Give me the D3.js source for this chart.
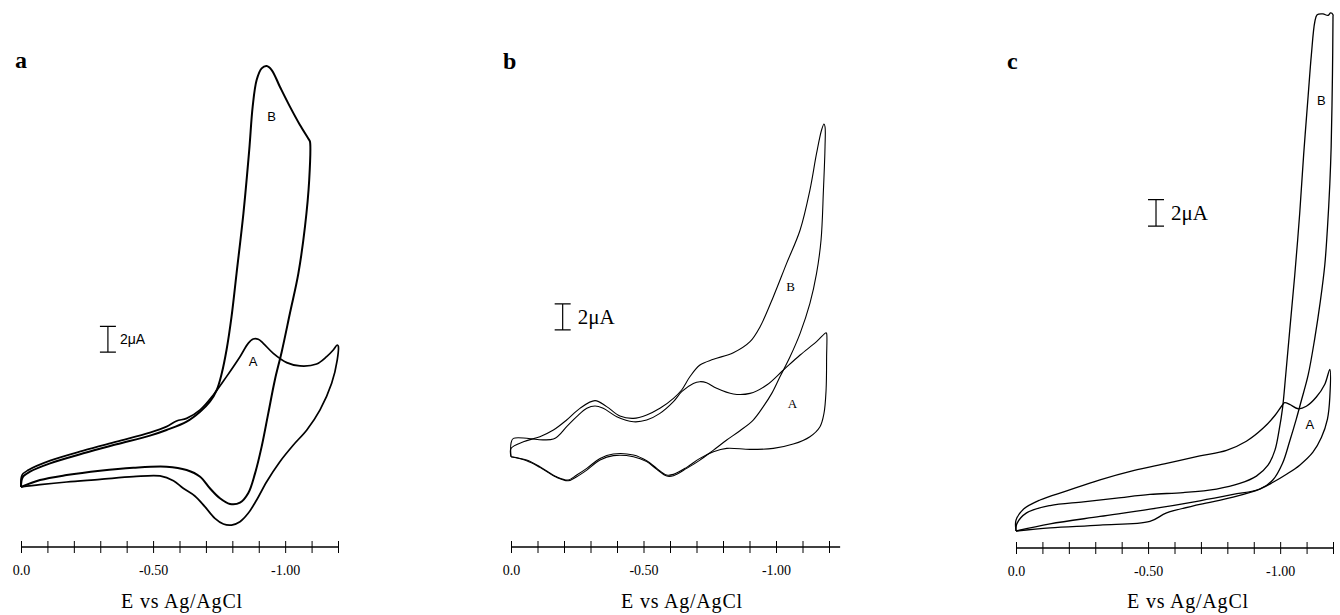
<!DOCTYPE html>
<html>
<head>
<meta charset="utf-8">
<title>Cyclic voltammograms</title>
<script src="https://cdnjs.cloudflare.com/ajax/libs/d3/7.8.5/d3.min.js"></script>
<style>
  body { margin: 0; background: #fff; }
  svg { display: block; }
</style>
</head>
<body>
<script>
// potential axis, V vs Ag/AgCl (negative to the right)
var potentialTicks = [0, -0.1, -0.2, -0.3, -0.4, -0.5, -0.6, -0.7, -0.8, -0.9, -1.0, -1.1, -1.2];
var labeledTicks = [0, -0.5, -1.0];
var tickLabelText = ["0.0", "-0.50", "-1.00"];
var axisTitle = "E vs Ag/AgCl";
var scaleText = "2\u03bcA";
var scaleBarUA = 2;

// curves as [E (V), I (uA)]
var aCurveA = [[0,0],[-0.004,0.93],[-0.028,1.32],[-0.110,2.05],[-0.236,2.83],[-0.362,3.53],[-0.488,4.23],[-0.551,4.70],[-0.589,5.14],[-0.627,5.34],[-0.678,6.0],[-0.728,7.16],[-0.778,8.59],[-0.829,10.14],[-0.860,11.18],[-0.879,11.52],[-0.898,11.5],[-0.917,11.18],[-0.955,10.40],[-1.006,9.68],[-1.056,9.42],[-1.119,9.57],[-1.157,10.14],[-1.182,10.66],[-1.197,11.05],[-1.201,10.97],[-1.197,9.88],[-1.176,8.07],[-1.132,6.0],[-1.082,4.44],[-1.031,3.27],[-0.980,1.97],[-0.930,0.41],[-0.892,-1.01],[-0.860,-2.05],[-0.829,-2.70],[-0.797,-2.96],[-0.766,-2.88],[-0.734,-2.44],[-0.696,-1.53],[-0.658,-0.70],[-0.614,-0.10],[-0.577,0.49],[-0.526,0.86],[-0.425,0.80],[-0.299,0.59],[-0.173,0.39],[-0.072,0.18],[0,0]];
var aCurveB = [[0,0],[-0.006,0.75],[-0.034,1.19],[-0.110,1.84],[-0.236,2.62],[-0.362,3.32],[-0.488,4.0],[-0.551,4.44],[-0.627,5.09],[-0.678,5.86],[-0.715,6.64],[-0.741,7.55],[-0.760,8.85],[-0.778,10.66],[-0.797,13.26],[-0.816,16.63],[-0.842,21.30],[-0.864,26.23],[-0.877,29.60],[-0.892,31.67],[-0.911,32.58],[-0.930,32.76],[-0.949,32.45],[-0.980,31.15],[-1.018,29.60],[-1.056,28.17],[-1.091,27.00],[-1.094,26.87],[-1.091,23.89],[-1.075,20.26],[-1.050,16.63],[-1.018,13.52],[-0.987,10.53],[-0.961,8.33],[-0.936,5.73],[-0.911,3.14],[-0.886,1.06],[-0.860,-0.49],[-0.829,-1.22],[-0.791,-1.32],[-0.753,-0.88],[-0.715,-0.10],[-0.678,0.80],[-0.627,1.32],[-0.551,1.58],[-0.425,1.50],[-0.299,1.27],[-0.173,0.93],[-0.072,0.54],[0,0]];

var bCurveA = [[0,0],[0,1.03],[-0.009,1.41],[-0.160,1.36],[-0.210,2.31],[-0.248,3.08],[-0.286,3.72],[-0.317,3.90],[-0.348,3.72],[-0.399,3.08],[-0.462,2.69],[-0.512,2.82],[-0.562,3.33],[-0.613,4.23],[-0.644,5.0],[-0.688,5.64],[-0.713,5.77],[-0.738,5.69],[-0.776,5.26],[-0.839,4.82],[-0.902,4.87],[-0.965,5.51],[-1.028,6.67],[-1.091,7.82],[-1.153,8.85],[-1.189,9.54],[-1.191,9.49],[-1.191,7.69],[-1.189,5.13],[-1.181,3.33],[-1.166,2.31],[-1.128,1.54],[-1.065,0.97],[-0.990,0.64],[-0.902,0.56],[-0.814,0.64],[-0.764,0.38],[-0.713,-0.13],[-0.663,-0.82],[-0.613,-1.36],[-0.588,-1.41],[-0.550,-0.90],[-0.512,-0.31],[-0.462,0.13],[-0.386,0.21],[-0.336,-0.13],[-0.286,-0.90],[-0.248,-1.41],[-0.216,-1.79],[-0.172,-1.54],[-0.109,-0.77],[-0.059,-0.26],[0,0]];
var bCurveB = [[0,0],[0,0.64],[-0.047,1.15],[-0.109,1.54],[-0.160,2.05],[-0.210,2.82],[-0.260,3.72],[-0.317,4.31],[-0.361,3.85],[-0.411,3.13],[-0.462,2.95],[-0.512,3.21],[-0.562,3.72],[-0.613,4.49],[-0.644,5.13],[-0.675,6.15],[-0.713,7.05],[-0.764,7.49],[-0.839,8.0],[-0.902,8.85],[-0.940,10.0],[-0.990,12.31],[-1.040,14.87],[-1.091,17.44],[-1.128,20.51],[-1.153,23.33],[-1.172,25.13],[-1.181,25.59],[-1.185,25.38],[-1.185,23.85],[-1.179,20.51],[-1.170,16.67],[-1.153,14.10],[-1.128,11.79],[-1.091,9.49],[-1.053,7.69],[-1.015,6.15],[-0.984,4.87],[-0.952,3.85],[-0.914,2.82],[-0.864,2.0],[-0.814,1.28],[-0.764,0.51],[-0.713,-0.26],[-0.663,-0.90],[-0.613,-1.46],[-0.588,-1.49],[-0.550,-0.97],[-0.512,-0.38],[-0.462,0.0],[-0.386,0.08],[-0.336,-0.26],[-0.286,-1.03],[-0.248,-1.54],[-0.216,-1.85],[-0.172,-1.59],[-0.109,-0.82],[-0.059,-0.31],[0,0]];

var cCurveA = [[0,0],[0,0.82],[-0.028,1.65],[-0.091,2.35],[-0.192,3.04],[-0.318,3.88],[-0.444,4.58],[-0.570,5.13],[-0.696,5.69],[-0.797,6.11],[-0.872,6.80],[-0.935,7.78],[-0.980,8.75],[-1.005,9.45],[-1.017,9.73],[-1.036,9.59],[-1.068,9.26],[-1.099,9.45],[-1.137,10.15],[-1.169,11.12],[-1.188,12.24],[-1.188,10.15],[-1.179,8.48],[-1.156,7.08],[-1.124,5.97],[-1.074,4.99],[-1.024,4.30],[-0.973,3.69],[-0.923,3.18],[-0.822,2.57],[-0.696,2.01],[-0.570,1.37],[-0.507,0.73],[-0.318,0.45],[-0.129,0.24],[0,0]];
var cCurveB = [[0,0],[-0.003,0.54],[-0.040,1.37],[-0.129,1.93],[-0.255,2.21],[-0.381,2.49],[-0.507,2.77],[-0.633,2.91],[-0.759,3.18],[-0.847,3.60],[-0.910,4.16],[-0.954,4.99],[-0.980,6.11],[-0.996,7.64],[-1.009,9.31],[-1.021,11.82],[-1.036,15.16],[-1.055,19.34],[-1.074,24.07],[-1.089,28.53],[-1.106,32.99],[-1.118,36.05],[-1.131,38.56],[-1.140,39.11],[-1.162,39.17],[-1.181,39.06],[-1.191,39.25],[-1.200,39.11],[-1.200,38.97],[-1.198,34.66],[-1.193,29.09],[-1.188,26.30],[-1.179,22.96],[-1.169,20.17],[-1.152,17.39],[-1.131,14.60],[-1.106,11.82],[-1.080,9.87],[-1.061,8.48],[-1.036,6.80],[-1.009,5.13],[-0.973,3.88],[-0.923,3.18],[-0.822,2.77],[-0.696,2.29],[-0.507,1.65],[-0.318,1.10],[-0.129,0.54],[0,0]];

// curve letters [text, E, I]
var aLetters = [["B", -0.949, 28.82], ["A", -0.879, 9.75]];
var bLetters = [["B", -1.055, 13.08], ["A", -1.062, 4.1]];
var cLetters = [["B", -1.156, 32.6], ["A", -1.112, 8.06]];

// scale bar foot [E, I]
var aBar = [-0.329, 10.5];
var bBar = [-0.195, 9.75];
var cBar = [-0.530, 23.1];

var w = 1340, h = 615;

var panels = [
  {name: "a", left: 21, right: 338, zeroY: 487, pxPerUA: 12.85, axisY: 547, axisEnd: -1.2,
   curves: [aCurveA, aCurveB], widths: [1.7, 2.0], letters: aLetters, bar: aBar,
   barFont: "'Liberation Sans', Arial, sans-serif", barSize: 14, barGap: 12, letterFont: "'Liberation Sans', Arial, sans-serif",
   letterSize: 13, nameX: 15, nameY: 68, titleX: 182},
  {name: "b", left: 511, right: 829, zeroY: 456.7, pxPerUA: 13, axisY: 547, axisEnd: -1.242,
   curves: [bCurveA, bCurveB], widths: [1.1, 1.1], letters: bLetters, bar: bBar,
   barFont: "'Liberation Serif', 'Times New Roman', serif", barSize: 21, barGap: 15, letterFont: "'Liberation Serif', serif",
   letterSize: 13, nameX: 503, nameY: 69, titleX: 682},
  {name: "c", left: 1016, right: 1333, zeroY: 531, pxPerUA: 13.2, axisY: 548, axisEnd: -1.2,
   curves: [cCurveA, cCurveB], widths: [1.3, 1.3], letters: cLetters, bar: cBar,
   barFont: "'Liberation Serif', 'Times New Roman', serif", barSize: 21, barGap: 15, letterFont: "'Liberation Sans', Arial, sans-serif",
   letterSize: 13, nameX: 1007, nameY: 69, titleX: 1188}
];

var svg = d3.select("body").append("svg")
  .attr("width", w)
  .attr("height", h);

panels.forEach(function(p) {
  var x = d3.scaleLinear().domain([0, -1.2]).range([p.left, p.right]);
  var y = d3.scaleLinear().domain([0, 10]).range([p.zeroY, p.zeroY - 10 * p.pxPerUA]);
  var g = svg.append("g");

  var line = d3.line()
    .x(function(d) { return x(d[0]); })
    .y(function(d) { return y(d[1]); })
    .curve(d3.curveCatmullRom.alpha(0.5));

  g.selectAll("path.cv")
    .data(p.curves)
    .enter()
    .append("path")
    .attr("class", "cv")
    .attr("d", line)
    .attr("fill", "none")
    .attr("stroke", "#000")
    .attr("stroke-linejoin", "round")
    .attr("stroke-width", function(d, i) { return p.widths[i]; });

  // axis: ticks cross the line
  g.append("line")
    .attr("x1", x(0)).attr("x2", x(p.axisEnd))
    .attr("y1", p.axisY).attr("y2", p.axisY)
    .attr("stroke", "#000").attr("stroke-width", 1.3);

  var axis = d3.axisBottom(x)
    .tickValues(potentialTicks)
    .tickSize(12)
    .tickSizeOuter(0)
    .tickPadding(12)
    .tickFormat(function(d) {
      var k = labeledTicks.findIndex(function(v) { return Math.abs(v - d) < 1e-9; });
      return k >= 0 ? tickLabelText[k] : "";
    });

  var ag = g.append("g")
    .attr("transform", "translate(0," + (p.axisY - 6) + ")")
    .call(axis);
  ag.select(".domain").remove();
  ag.selectAll(".tick line").attr("stroke", "#000").attr("stroke-width", 1);
  ag.selectAll(".tick text")
    .attr("fill", "#000")
    .style("font-family", "'Liberation Serif', 'Times New Roman', serif")
    .style("font-size", "14px");

  g.append("text")
    .attr("x", p.titleX)
    .attr("y", 608)
    .attr("text-anchor", "middle")
    .style("font-family", "'Liberation Serif', 'Times New Roman', serif")
    .style("font-size", "20px")
    .style("letter-spacing", "0.8px")
    .text(axisTitle);

  g.append("text")
    .attr("x", p.nameX)
    .attr("y", p.nameY)
    .style("font-family", "'Liberation Serif', 'Times New Roman', serif")
    .style("font-weight", "bold")
    .style("font-size", "24px")
    .text(p.name);

  g.selectAll("text.lbl")
    .data(p.letters)
    .enter()
    .append("text")
    .attr("class", "lbl")
    .attr("x", function(d) { return x(d[1]); })
    .attr("y", function(d) { return y(d[2]); })
    .attr("text-anchor", "middle")
    .attr("dominant-baseline", "central")
    .style("font-family", p.letterFont)
    .style("font-size", p.letterSize + "px")
    .text(function(d) { return d[0]; });

  // 2 uA scale bar
  var bx = x(p.bar[0]), by0 = y(p.bar[1]), by1 = y(p.bar[1] + scaleBarUA);
  g.append("path")
    .attr("d", "M" + (bx - 8) + "," + by1 + "H" + (bx + 8) +
               "M" + bx + "," + by1 + "V" + by0 +
               "M" + (bx - 8) + "," + by0 + "H" + (bx + 8))
    .attr("fill", "none")
    .attr("stroke", "#000")
    .attr("stroke-width", 1.2);
  g.append("text")
    .attr("x", bx + p.barGap)
    .attr("y", (by0 + by1) / 2)
    .attr("dominant-baseline", "central")
    .style("font-family", p.barFont)
    .style("font-size", p.barSize + "px")
    .text(scaleText);
});
</script>
</body>
</html>
